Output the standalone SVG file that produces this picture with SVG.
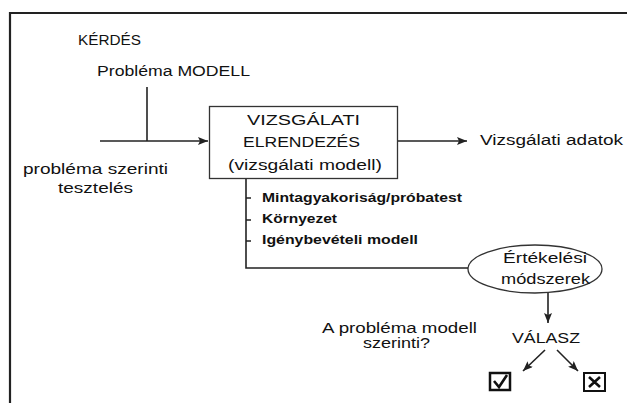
<svg xmlns="http://www.w3.org/2000/svg" width="627" height="403" viewBox="0 0 627 403">
<style>
text{font-family:"Liberation Sans","DejaVu Sans",sans-serif;fill:#111;font-size:14px}
.b{font-weight:bold;font-size:12.5px}
.m{text-anchor:middle}
.ln{stroke:#222;stroke-width:1.6;fill:none}
.fr{stroke:#222;stroke-width:2.2;fill:none}
</style>
<defs>
<marker id="ah" viewBox="0 0 10 8" refX="10" refY="4" markerWidth="10" markerHeight="8" markerUnits="userSpaceOnUse" orient="auto">
<path d="M0,0 L10,4 L0,8 L2,4 Z" fill="#222"/>
</marker>
</defs>
<rect width="627" height="403" fill="#fff"/>
<path class="fr" d="M10,403 V13 H627"/>
<g id="kerdes"><text x="78" y="45" textLength="63" lengthAdjust="spacingAndGlyphs">KÉRDÉS</text></g>
<g id="problema-modell"><text x="97" y="76" textLength="153" lengthAdjust="spacingAndGlyphs">Probléma MODELL</text></g>
<g id="problema-szerinti"><text x="23" y="174" textLength="145" lengthAdjust="spacingAndGlyphs">probléma szerinti</text><text x="58" y="193" textLength="75" lengthAdjust="spacingAndGlyphs">tesztelés</text></g>
<g id="vizsgalati-elrendezes">
<rect x="209.5" y="106.5" width="188" height="72" fill="#fff" stroke="#333" stroke-width="1.3"/>
<text x="247" y="125" textLength="113" lengthAdjust="spacingAndGlyphs">VIZSGÁLATI</text>
<text x="243" y="147" textLength="117" lengthAdjust="spacingAndGlyphs">ELRENDEZÉS</text>
<text x="228" y="170" textLength="154" lengthAdjust="spacingAndGlyphs">(vizsgálati modell)</text>
</g>
<g id="vizsgalati-adatok"><text x="480" y="145" textLength="143" lengthAdjust="spacingAndGlyphs">Vizsgálati adatok</text></g>
<g id="lista">
<text class="b" x="262" y="202" textLength="200" lengthAdjust="spacingAndGlyphs">Mintagyakoriság/próbatest</text>
<text class="b" x="262" y="223" textLength="75" lengthAdjust="spacingAndGlyphs">Környezet</text>
<text class="b" x="262" y="244" textLength="156" lengthAdjust="spacingAndGlyphs">Igénybevételi modell</text>
</g>
<g id="ertekelesi-modszerek">
<ellipse cx="535" cy="269" rx="67" ry="24" fill="#fff" stroke="#333" stroke-width="1.3"/>
<text x="503" y="263" textLength="84" lengthAdjust="spacingAndGlyphs">Értékelési</text>
<text x="501" y="284" textLength="89" lengthAdjust="spacingAndGlyphs">módszerek</text>
</g>
<g id="kerdes-modell"><text x="322" y="333" textLength="155" lengthAdjust="spacingAndGlyphs">A probléma modell</text><text x="363" y="348" textLength="67" lengthAdjust="spacingAndGlyphs">szerinti?</text></g>
<g id="valasz"><text x="512" y="343" textLength="68" lengthAdjust="spacingAndGlyphs">VÁLASZ</text></g>
<g id="igen">
<rect x="490" y="373" width="20" height="17" fill="#fff" stroke="#111" stroke-width="2.5"/>
<path d="M494,381 L499,387 L507,375" fill="none" stroke="#111" stroke-width="2.6"/>
</g>
<g id="nem">
<rect x="584" y="373" width="21" height="18" fill="#fff" stroke="#111" stroke-width="2"/>
<path d="M589,377 L600,387 M600,377 L589,387" fill="none" stroke="#111" stroke-width="2.6"/>
</g>
<g id="connectors">
<path class="ln" d="M147,87 V141"/>
<path class="ln" d="M100,141 H208" marker-end="url(#ah)"/>
<path class="ln" d="M398,141 H467" marker-end="url(#ah)"/>
<path class="ln" d="M246,179 V268 H468"/>
<path class="ln" d="M246,198 H251 M246,220 H251 M246,241 H251"/>
<path class="ln" d="M548,293 V323" marker-end="url(#ah)"/>
<path class="ln" d="M545,350 L523,371" marker-end="url(#ah)"/>
<path class="ln" d="M557,350 L578,371" marker-end="url(#ah)"/>
</g>
</svg>
